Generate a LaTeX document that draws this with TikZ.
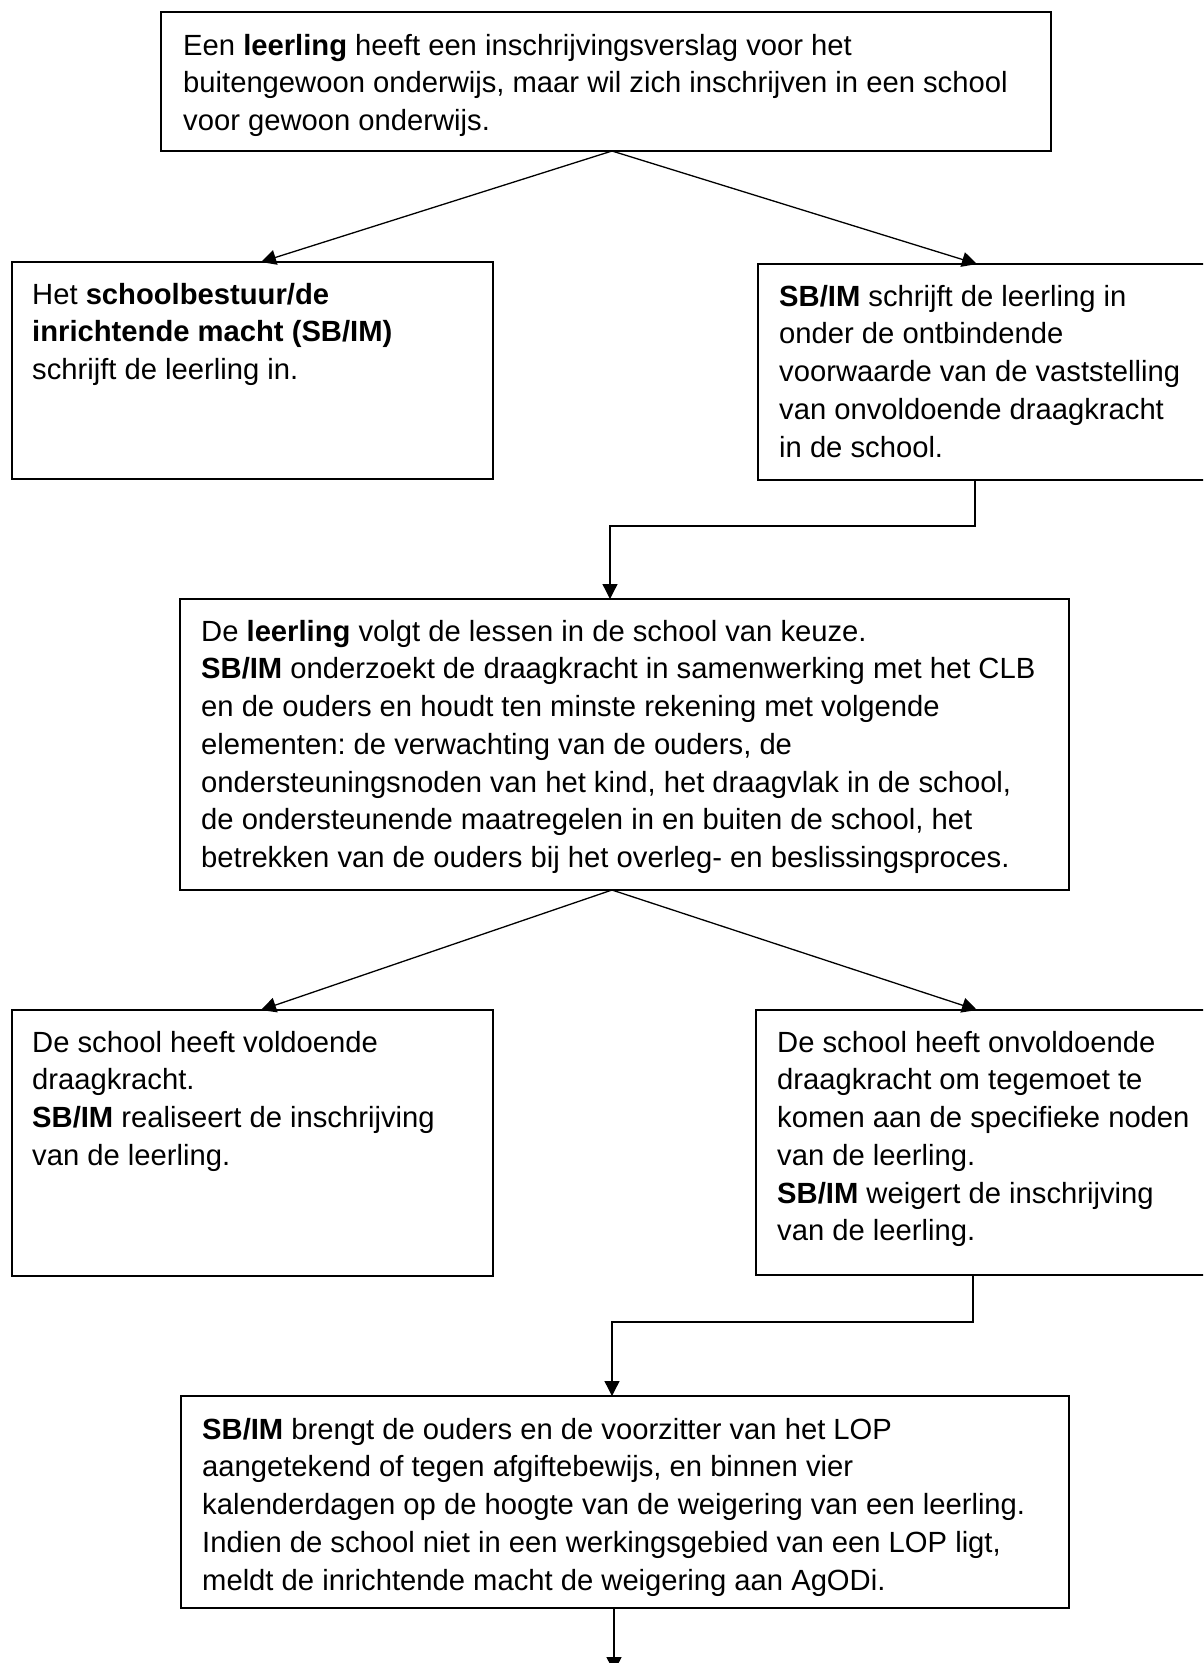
\documentclass[tikz,border=0pt]{standalone}
\usepackage{fontspec}
\setmainfont{Liberation Sans}
\usetikzlibrary{arrows.meta}
\tikzset{
  box/.style={draw, line width=1.5pt, inner sep=0pt, outer sep=0pt, anchor=north west},
  txt/.style={anchor=north west, inner sep=0pt, align=left, font=\frenchspacing\fontsize{29.2}{37.7}\selectfont},
  conn/.style={line width=1.3pt},
  arr/.style={conn, -{Triangle[width=15pt,length=15pt]}}
}
\newcommand{\fl}{\rule{0pt}{24pt}}
\begin{document}
\begin{tikzpicture}[x=1pt,y=-1pt]
\useasboundingbox (0,0) rectangle (1203,1663);
\clip (0,0) rectangle (1203,1663);
% boxes
\node[box, minimum width=890pt, minimum height=139pt] (top) at (161,12) {};
\node[box, minimum width=481pt, minimum height=217pt] (b2l) at (12,262) {};
\node[box, minimum width=460pt, minimum height=216pt] (b2r) at (758,264) {};
\node[box, minimum width=889pt, minimum height=291pt] (b3) at (180,599) {};
\node[box, minimum width=481pt, minimum height=266pt] (b4l) at (12,1010) {};
\node[box, minimum width=460pt, minimum height=265pt] (b4r) at (756,1010) {};
\node[box, minimum width=888pt, minimum height=212pt] (b5) at (181,1396) {};
% texts
\node[txt] (ttop) at ([shift={(22pt,-19pt)}]top.north west) {\fl Een \textbf{leerling} heeft een inschrijvingsverslag voor het\\ buitengewoon onderwijs, maar wil zich inschrijven in een school\\ voor gewoon onderwijs.};
\node[txt] (tb2l) at ([shift={(20pt,-18pt)}]b2l.north west) {\fl Het \textbf{schoolbestuur/de}\\ \textbf{inrichtende macht (SB/IM)}\\ schrijft de leerling in.};
\node[txt] (tb2r) at ([shift={(21pt,-18pt)}]b2r.north west) {\fl\textbf{SB/IM} schrijft de leerling in\\ onder de ontbindende\\ voorwaarde van de vaststelling\\ van onvoldoende draagkracht\\ in de school.};
\node[txt] (tb3) at ([shift={(21pt,-18pt)}]b3.north west) {\fl De \textbf{leerling} volgt de lessen in de school van keuze.\\ \textbf{SB/IM} onderzoekt de draagkracht in samenwerking met het CLB\\ en de ouders en houdt ten minste rekening met volgende\\ elementen: de verwachting van de ouders, de\\ ondersteuningsnoden van het kind, het draagvlak in de school,\\ de ondersteunende maatregelen in en buiten de school, het\\ betrekken van de ouders bij het overleg- en beslissingsproces.};
\node[txt] (tb4l) at ([shift={(20pt,-18pt)}]b4l.north west) {\fl De school heeft voldoende\\ draagkracht.\\ \textbf{SB/IM} realiseert de inschrijving\\ van de leerling.};
\node[txt] (tb4r) at ([shift={(21pt,-18pt)}]b4r.north west) {\fl De school heeft onvoldoende\\ draagkracht om tegemoet te\\ komen aan de specifieke noden\\ van de leerling.\\ \textbf{SB/IM} weigert de inschrijving\\ van de leerling.};
\node[txt] (tb5) at ([shift={(21pt,-19pt)}]b5.north west) {\fl\textbf{SB/IM} brengt de ouders en de voorzitter van het LOP\\ aangetekend of tegen afgiftebewijs, en binnen vier\\ kalenderdagen op de hoogte van de weigering van een leerling.\\ Indien de school niet in een werkingsgebied van een LOP ligt,\\ meldt de inrichtende macht de weigering aan AgODi.};
% connectors
\draw[arr] ([xshift=6pt]top.south) -- ([xshift=8.5pt]b2l.north);
\draw[arr] ([xshift=6pt]top.south) -- ([xshift=-11pt]b2r.north);
\draw[arr] ([xshift=-13pt]b2r.south) -- ++(0,46) -| ([xshift=-14.5pt]b3.north);
\draw[arr] ([xshift=-12.5pt]b3.south) -- ([xshift=8.5pt]b4l.north);
\draw[arr] ([xshift=-12.5pt]b3.south) -- ([xshift=-9pt]b4r.north);
\draw[arr] ([xshift=-13pt]b4r.south) -- ++(0,47) -| ([xshift=-13pt]b5.north);
\coordinate (endpt) at (614,1672);
\draw[arr] (b5.south -| endpt) -- (endpt);
\end{tikzpicture}
\end{document}
